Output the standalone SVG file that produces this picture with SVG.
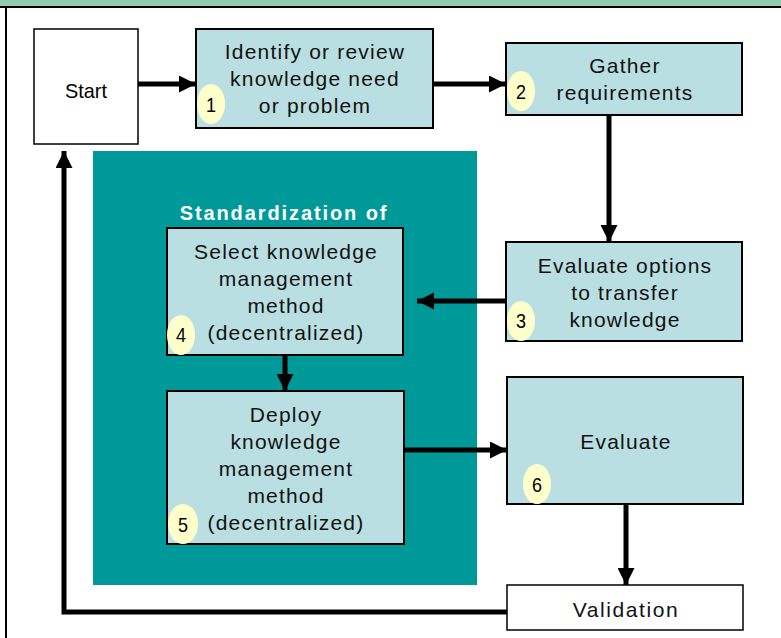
<svg xmlns="http://www.w3.org/2000/svg" width="781" height="638" viewBox="0 0 781 638">
<defs>
<style>
.box{fill:#b9dfe2;stroke:#000;stroke-width:2}
.wbox{fill:#fff;stroke:#000;stroke-width:1.5}
.t{font-family:"Liberation Sans",Arial,sans-serif;font-size:21px;fill:#111;text-anchor:middle;letter-spacing:1.2px}
.st{font-family:"Liberation Sans",Arial,sans-serif;font-size:21px;fill:#000;text-anchor:middle}
.badge{fill:#ffffcc}
.n{font-family:"Liberation Sans",Arial,sans-serif;font-size:21px;fill:#000;text-anchor:middle}
.conn{fill:none;stroke:#000;stroke-width:5;stroke-linejoin:miter}
.hd{font-family:"Liberation Sans",Arial,sans-serif;font-size:20px;font-weight:bold;fill:#fff;text-anchor:middle;letter-spacing:1.9px}
</style>
<marker id="ah" markerUnits="userSpaceOnUse" markerWidth="17" markerHeight="17" refX="17" refY="8.5" orient="auto" viewBox="0 0 17 17">
<path d="M0,0 L17,8.5 L0,17 z" fill="#000"/>
</marker>
</defs>
<rect x="0" y="0" width="781" height="638" fill="#fff"/>
<rect x="0" y="0" width="781" height="7" fill="#93cdb1"/>
<line x1="0" y1="7" x2="781" y2="7" stroke="#000" stroke-width="2"/>
<line x1="6" y1="7" x2="6" y2="638" stroke="#000" stroke-width="2"/>
<g id="group-standardization">
<rect x="93" y="151" width="384" height="434" fill="#009999"/>
<text class="hd" x="284" y="220">Standardization of</text>
</g>
<g id="node-start">
<rect class="wbox" x="34" y="29" width="104" height="115"/>
<text class="st" x="86" y="98" textLength="42" lengthAdjust="spacingAndGlyphs">Start</text>
</g>
<g id="node-1">
<rect class="box" x="196" y="29" width="237" height="99"/>
<text class="t" x="315" y="59">Identify or review</text>
<text class="t" x="315" y="86">knowledge need</text>
<text class="t" x="315" y="113">or problem</text>
<ellipse class="badge" cx="211" cy="104" rx="14" ry="20"/>
<text class="n" x="211" y="112" textLength="10" lengthAdjust="spacingAndGlyphs">1</text>
</g>
<g id="node-2">
<rect class="box" x="506" y="43" width="236" height="72"/>
<text class="t" x="625" y="73">Gather</text>
<text class="t" x="625" y="100">requirements</text>
<ellipse class="badge" cx="521" cy="91" rx="14" ry="20"/>
<text class="n" x="521" y="99" textLength="10" lengthAdjust="spacingAndGlyphs">2</text>
</g>
<g id="node-3">
<rect class="box" x="506" y="242" width="236" height="99"/>
<text class="t" x="625" y="273">Evaluate options</text>
<text class="t" x="625" y="300">to transfer</text>
<text class="t" x="625" y="327">knowledge</text>
<ellipse class="badge" cx="521" cy="321" rx="14" ry="20"/>
<text class="n" x="521" y="328" textLength="10" lengthAdjust="spacingAndGlyphs">3</text>
</g>
<g id="node-4">
<rect class="box" x="167" y="228" width="236" height="127"/>
<text class="t" x="286" y="259">Select knowledge</text>
<text class="t" x="286" y="286">management</text>
<text class="t" x="286" y="313">method</text>
<text class="t" x="286" y="340">(decentralized)</text>
<ellipse class="badge" cx="181" cy="335" rx="14" ry="20"/>
<text class="n" x="181" y="342" textLength="10" lengthAdjust="spacingAndGlyphs">4</text>
</g>
<g id="node-5">
<rect class="box" x="167" y="391" width="237" height="153"/>
<text class="t" x="286" y="422">Deploy</text>
<text class="t" x="286" y="449">knowledge</text>
<text class="t" x="286" y="476">management</text>
<text class="t" x="286" y="503">method</text>
<text class="t" x="286" y="530">(decentralized)</text>
<ellipse class="badge" cx="183" cy="524" rx="15" ry="20"/>
<text class="n" x="183" y="532" textLength="10" lengthAdjust="spacingAndGlyphs">5</text>
</g>
<g id="node-6">
<rect class="box" x="507" y="377" width="236" height="127"/>
<text class="t" x="626" y="449">Evaluate</text>
<ellipse class="badge" cx="537" cy="484" rx="14" ry="20"/>
<text class="n" x="537" y="492" textLength="10" lengthAdjust="spacingAndGlyphs">6</text>
</g>
<g id="node-validation">
<rect class="wbox" x="507" y="585" width="236" height="45"/>
<text class="t" x="626" y="617" style="letter-spacing:1.6px">Validation</text>
</g>
<g id="connectors">
<path class="conn" d="M138,84 H196" marker-end="url(#ah)"/>
<path class="conn" d="M433,84 H506" marker-end="url(#ah)"/>
<path class="conn" d="M609,115 V242" marker-end="url(#ah)"/>
<path class="conn" d="M506,301 H417" marker-end="url(#ah)"/>
<path class="conn" d="M285,355 V391" marker-end="url(#ah)"/>
<path class="conn" d="M404,450 H507" marker-end="url(#ah)"/>
<path class="conn" d="M626,504 V585" marker-end="url(#ah)"/>
<path class="conn" d="M507,612 H64 V151" marker-end="url(#ah)"/>
</g>
</svg>
